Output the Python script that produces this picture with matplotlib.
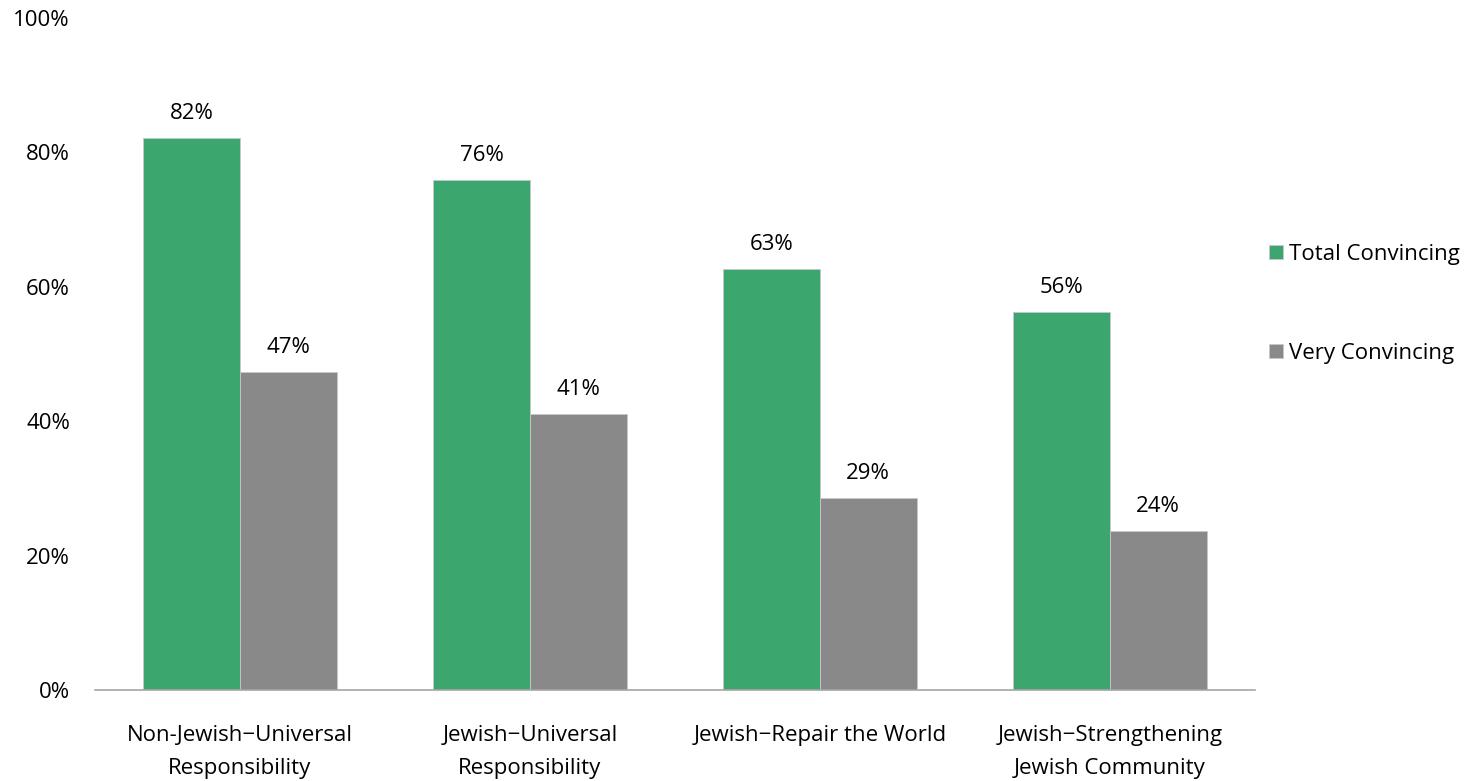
import matplotlib
matplotlib.use("Agg")
import matplotlib.pyplot as plt
import numpy as np

categories = [
    "Non-Jewish\u2212Universal\nResponsibility",
    "Jewish\u2212Universal\nResponsibility",
    "Jewish\u2212Repair the World",
    "Jewish\u2212Strengthening\nJewish Community",
]
total_convincing = [82.1, 75.9, 62.6, 56.2]
very_convincing = [47.3, 41.1, 28.6, 23.6]
series_names = ["Total Convincing", "Very Convincing"]
colors = ["#3BA66E", "#898989"]

plt.rcParams["font.family"] = ["Open Sans", "DejaVu Sans"]
plt.rcParams["font.size"] = 16

fig = plt.figure(figsize=(14.81, 7.81), dpi=100)
ax = fig.add_axes([0.0641, 0.1165, 0.7833, 0.861])

x = np.arange(len(categories))
width = 0.333

for i, (vals, name, color) in enumerate(zip([total_convincing, very_convincing], series_names, colors)):
    offset = (i - 0.5) * width
    bars = ax.bar(x + offset, vals, width, color=color, label=name,
                  edgecolor="#C8C8C8", linewidth=0.6)
    for b, v in zip(bars, vals):
        ax.annotate(f"{v:.0f}%", (b.get_x() + b.get_width() / 2, v),
                    xytext=(0, 10), textcoords="offset points",
                    ha="center", va="bottom")

ax.set_xlim(-0.5, len(categories) - 0.5)
ax.set_ylim(0, 100)
ax.set_yticks(np.arange(0, 101, 20))
ax.set_yticklabels([f"{t}%" for t in range(0, 101, 20)])
ax.set_xticks(x)
ax.set_xticklabels(categories, linespacing=1.75)

for s in ["top", "right", "left"]:
    ax.spines[s].set_visible(False)
ax.spines["bottom"].set_color("#A6A6A6")
ax.spines["bottom"].set_linewidth(1.2)
ax.tick_params(axis="both", length=0)
ax.tick_params(axis="y", pad=18)
ax.tick_params(axis="x", pad=25)

ax.legend(loc="center left", bbox_to_anchor=(0.995, 0.574), frameon=False,
          handlelength=0.6, handleheight=0.6, handletextpad=0.3,
          labelspacing=3.5)

fig.savefig("out.png", dpi=100)
